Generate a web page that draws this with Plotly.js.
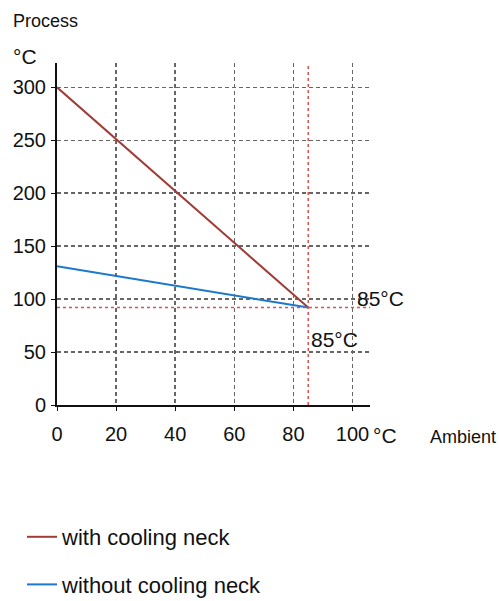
<!DOCTYPE html>
<html>
<head>
<meta charset="utf-8">
<script src="https://cdn.plot.ly/plotly-3.0.1.min.js"></script>
<style>html,body{margin:0;padding:0;background:#fff;}#chart{width:499px;height:601px;}</style>
</head>
<body>
<div id="chart"></div>
<script>
// Data
const ambient = [0, 85];
const withNeck = [300, 92];
const withoutNeck = [131, 92];
const seriesNames = ["with cooling neck", "without cooling neck"];
const xTicks = [0, 20, 40, 60, 80, 100];
const yTicks = [0, 50, 100, 150, 200, 250, 300];
const limitAmbient = 85;
const limitProcess = 92;
const limitLabel = "85°C";

const F = "Liberation Sans, Arial, Helvetica, sans-serif";
const red = "#a03c36";
const blue = "#1b78cc";
const dotRed = "#d9534f";

const traces = [
  {x: ambient, y: withNeck, mode: "lines", name: seriesNames[0], line: {color: red, width: 2}, legendgroup: "a"},
  {x: ambient, y: withoutNeck, mode: "lines", name: seriesNames[1], line: {color: blue, width: 2}, legendgroup: "b"}
];

const xMax = 105.9, yMax = 323;
// plot area in pixels: x 57..370, y 63..405
const PW = 313, PH = 342;
const px = v => (v - 57) / PW;
const py = v => (405 - v) / PH;

const layout = {
  width: 499, height: 601,
  margin: {l: 57, r: 129, t: 63, b: 196, autoexpand: false},
  paper_bgcolor: "#fff", plot_bgcolor: "#fff",
  font: {family: F, color: "#111", size: 20},
  showlegend: true,
  legend: {
    x: px(22), y: py(516), yanchor: "top", xanchor: "left",
    font: {family: F, size: 22, color: "#111"},
    traceorder: "grouped", tracegroupgap: 16, itemwidth: 30, bgcolor: "rgba(0,0,0,0)"
  },
  xaxis: {
    range: [0, xMax], tickmode: "array", tickvals: xTicks, ticktext: xTicks.map(String),
    showline: true, linecolor: "#111", linewidth: 2, ticks: "outside", ticklen: 4, tickcolor: "#111",
    showgrid: true, gridcolor: "#666", griddash: "4px,3px", gridwidth: 1.5, zeroline: false,
    tickfont: {family: F, size: 20, color: "#111"}, tickangle: 0, ticklabelstandoff: 6,
    automargin: false, fixedrange: true
  },
  yaxis: {
    range: [0, yMax], tickmode: "array", tickvals: yTicks, ticktext: yTicks.map(String),
    showline: true, linecolor: "#111", linewidth: 2, ticks: "outside", ticklen: 4, tickcolor: "#111",
    showgrid: true, gridcolor: "#666", griddash: "4px,3px", gridwidth: 1.5, zeroline: false,
    tickfont: {family: F, size: 20, color: "#111"}, ticklabelstandoff: 1, automargin: false, fixedrange: true
  },
  shapes: [
    {type: "line", xref: "x", yref: "y", x0: limitAmbient, x1: limitAmbient, y0: 0, y1: yMax - 2, line: {color: dotRed, width: 1.5, dash: "dot"}},
    {type: "line", xref: "x", yref: "y", x0: 0, x1: xMax, y0: limitProcess, y1: limitProcess, line: {color: dotRed, width: 1.5, dash: "dot"}}
  ],
  annotations: [
    {text: "Process", xref: "paper", yref: "paper", x: px(11), y: py(21), xanchor: "left", yanchor: "middle", showarrow: false, font: {family: F, size: 18, color: "#111"}},
    {text: "°C", xref: "paper", yref: "paper", x: px(11), y: py(56), xanchor: "left", yanchor: "middle", showarrow: false, font: {family: F, size: 21, color: "#111"}},
    {text: "°C", xref: "paper", yref: "paper", x: px(371), y: py(435), xanchor: "left", yanchor: "middle", showarrow: false, font: {family: F, size: 21, color: "#111"}},
    {text: "Ambient", xref: "paper", yref: "paper", x: px(428), y: py(437), xanchor: "left", yanchor: "middle", showarrow: false, font: {family: F, size: 18, color: "#111"}},
    {text: limitLabel, xref: "x", yref: "y", x: 100.8, y: 101, xanchor: "left", yanchor: "middle", showarrow: false, font: {family: F, size: 21, color: "#111"}},
    {text: limitLabel, xref: "x", yref: "y", x: 85.3, y: 62.3, xanchor: "left", yanchor: "middle", showarrow: false, font: {family: F, size: 21, color: "#111"}}
  ]
};

Plotly.newPlot("chart", traces, layout, {staticPlot: true, displayModeBar: false});
</script>
</body>
</html>
